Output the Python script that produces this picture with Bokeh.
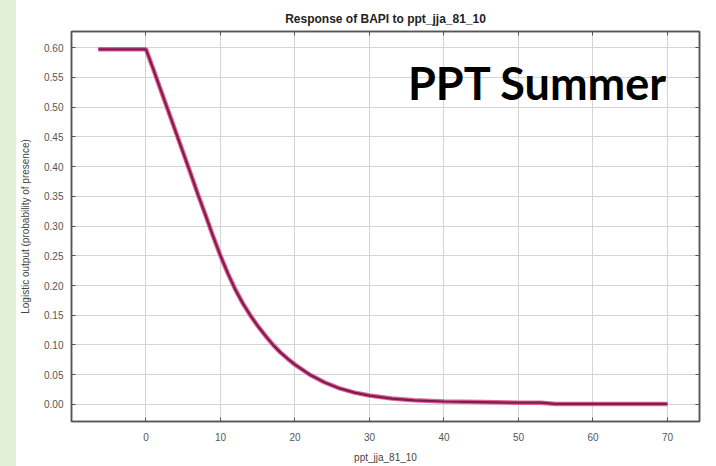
from bokeh.plotting import figure
from bokeh.models import (Range1d, FixedTicker, NumeralTickFormatter, LinearAxis,
                          Label, Div, ColumnDataSource, CustomJSTickFormatter)
from bokeh.layouts import row
from bokeh.embed import file_html
from bokeh.resources import INLINE

# ---- data ----
ppt = [-6.4, 0, 1, 2, 3, 4, 5, 6, 7, 8, 9, 10, 11, 12, 13, 14, 15, 16, 17, 18, 19,
       20, 22, 24, 26, 28, 30, 33, 36, 40, 45, 50, 53, 55, 60, 65, 70]
response = [0.597, 0.597, 0.563, 0.528, 0.493, 0.458, 0.423, 0.388, 0.352, 0.318,
            0.283, 0.250, 0.220, 0.193, 0.170, 0.150, 0.132, 0.116, 0.101, 0.088,
            0.077, 0.067, 0.050, 0.037, 0.027, 0.020, 0.015, 0.010, 0.007, 0.005,
            0.004, 0.003, 0.003, 0.001, 0.001, 0.001, 0.001]
x_ticks = [0, 10, 20, 30, 40, 50, 60, 70]
y_ticks = [0.00, 0.05, 0.10, 0.15, 0.20, 0.25, 0.30, 0.35, 0.40, 0.45, 0.50, 0.55, 0.60]

title_text = "Response of BAPI to ppt_jja_81_10"
x_label = "ppt_jja_81_10"
y_label = "Logistic output (probability of presence)"
overlay_text = "PPT Summer"

src = ColumnDataSource(dict(x=ppt, y=response))

p = figure(width=700, height=466, output_backend="svg", toolbar_location=None,
           x_range=Range1d(-10, 74.3), y_range=Range1d(-0.0286, 0.627),
           min_border_left=55, min_border_right=17, min_border_top=31,
           min_border_bottom=45, background_fill_color="white",
           border_fill_color="white", margin=0)

p.title.text = title_text
p.title.align = "center"
p.title.vertical_align = "top"
p.title.text_font = "Liberation Sans"
p.title.text_font_size = "12px"
p.title.text_font_style = "bold"
p.title.text_color = "#222222"
p.title.standoff = 8

p.outline_line_color = "#555555"
p.outline_line_width = 1.5

for ax in (p.xaxis[0], p.yaxis[0]):
    ax.major_tick_in = 4
    ax.major_tick_out = 0
    ax.minor_tick_line_color = None
    ax.axis_line_color = "#555555"
    ax.axis_line_width = 1.5
    ax.major_tick_line_color = "#555555"
    ax.major_label_text_font = "Liberation Sans"
    ax.major_label_text_font_size = "10px"
    ax.major_label_text_color = "#555555"
    ax.axis_label_text_font = "Liberation Sans"
    ax.axis_label_text_font_size = "10px"
    ax.axis_label_text_font_style = "normal"
    ax.axis_label_text_color = "#444444"

p.xaxis[0].ticker = FixedTicker(ticks=x_ticks)
p.yaxis[0].ticker = FixedTicker(ticks=y_ticks)
p.yaxis[0].formatter = NumeralTickFormatter(format="0.00")
p.xaxis[0].axis_label = x_label
p.yaxis[0].axis_label = y_label
p.xaxis[0].major_label_standoff = 11
p.xaxis[0].axis_label_standoff = 8
p.yaxis[0].major_label_standoff = 8
p.yaxis[0].axis_label_standoff = 10

blank = CustomJSTickFormatter(code="return ''")
# mirrored axes (top/right) with inward ticks, no labels
top = LinearAxis(ticker=FixedTicker(ticks=x_ticks), formatter=blank,
                 major_label_standoff=0, major_tick_in=4, major_tick_out=0,
                 minor_tick_line_color=None, axis_line_color="#555555",
                 axis_line_width=1.5, major_tick_line_color="#555555")
right = LinearAxis(ticker=FixedTicker(ticks=y_ticks), formatter=blank,
                   major_label_standoff=0, major_tick_in=4, major_tick_out=0,
                   minor_tick_line_color=None, axis_line_color="#555555",
                   axis_line_width=1.5, major_tick_line_color="#555555")
p.add_layout(top, "above")
p.add_layout(right, "right")

p.xgrid.ticker = FixedTicker(ticks=x_ticks)
p.ygrid.ticker = FixedTicker(ticks=y_ticks)
for g in (p.xgrid[0], p.ygrid[0]):
    g.grid_line_color = "#d4d4d4"
    g.grid_line_width = 1

p.line("x", "y", source=src, line_color="#e0457d", line_width=4.5, line_alpha=0.85)
p.line("x", "y", source=src, line_color="#7a1e55", line_width=2.2)

p.add_layout(Label(x=70.0, y=0.54, text=overlay_text, text_align="right",
                   text_baseline="middle", text_font="Lato",
                   text_font_style="bold", text_font_size="45px",
                   text_color="#000000"))

strip = Div(width=16, height=466, margin=0,
            styles={"background-color": "#e2efd9"})
layout = row(strip, p, spacing=0)

open("out.html", "w").write(file_html(layout, INLINE))
